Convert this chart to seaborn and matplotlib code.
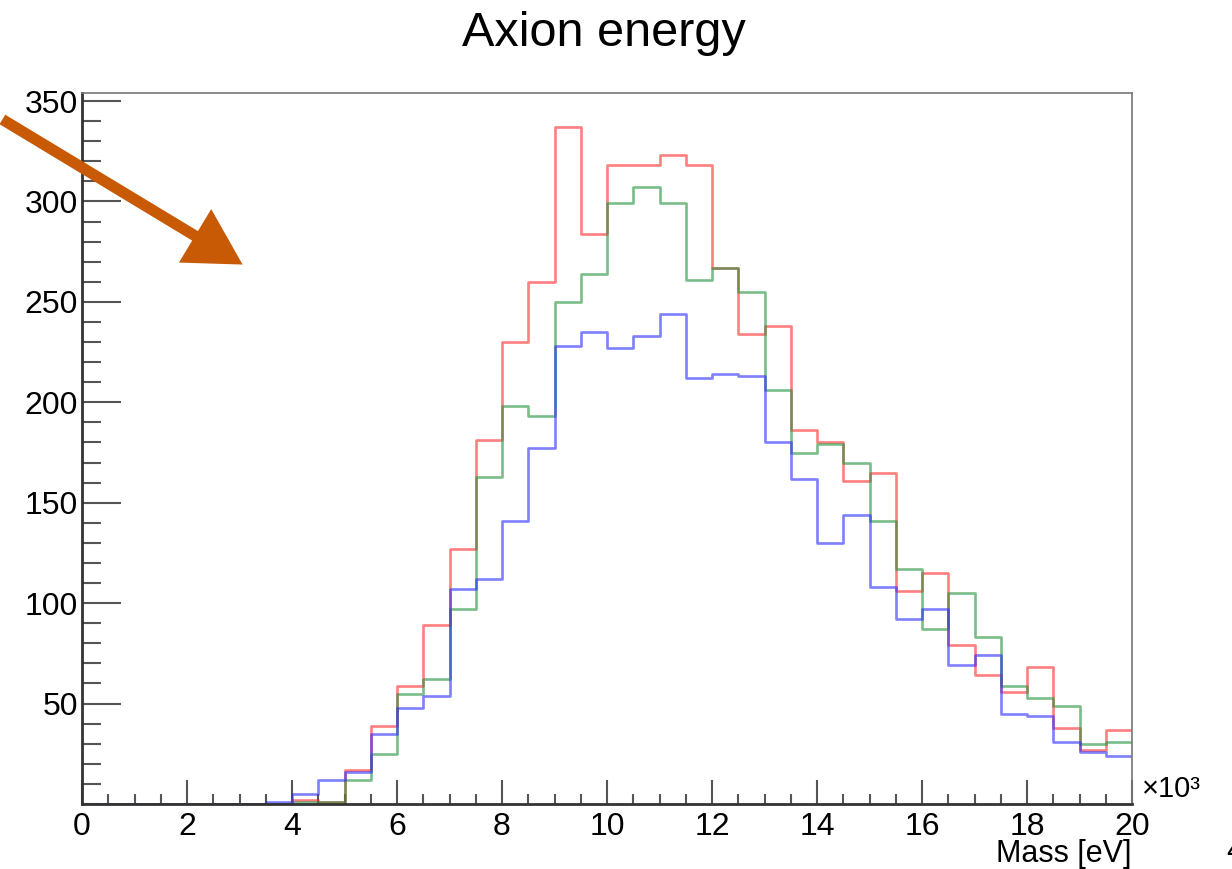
import numpy as np
import pandas as pd
import matplotlib
matplotlib.use("Agg")
import matplotlib.pyplot as plt
from matplotlib.patches import FancyArrowPatch, ArrowStyle
from matplotlib.ticker import MultipleLocator
import seaborn as sns

# Histogram binning: 40 bins of 0.5 (x10^3 eV) from 0 to 20
bin_edges = [0.5 * i for i in range(41)]
bin_centers = [0.5 * i + 0.25 for i in range(40)]

counts_red = [0, 0, 0, 0, 0, 0, 0, 0, 2, 1,
              17, 39, 59, 89, 127, 181, 230, 260, 337, 284,
              318, 318, 323, 318, 267, 234, 238, 186, 180, 161,
              165, 106, 115, 79, 64, 56, 68, 38, 27, 37]
counts_green = [0, 0, 0, 0, 0, 0, 0, 0, 1, 1,
                12, 25, 55, 62, 97, 163, 198, 193, 250, 264,
                299, 307, 299, 261, 267, 255, 206, 175, 179, 170,
                141, 117, 87, 105, 83, 59, 53, 49, 30, 31]
counts_blue = [0, 0, 0, 0, 0, 0, 0, 1, 5, 12,
               16, 35, 48, 54, 107, 112, 141, 177, 228, 235,
               227, 233, 244, 212, 214, 213, 180, 162, 130, 144,
               108, 92, 97, 69, 74, 45, 44, 31, 26, 24]

series = [(counts_red, "#ff2a2a"), (counts_green, "#23913a"), (counts_blue, "#2a2aff")]

y_major = [50, 100, 150, 200, 250, 300, 350]
x_major = [0, 2, 4, 6, 8, 10, 12, 14, 16, 18, 20]

sns.set_theme(style="white")
plt.rcParams["font.family"] = ["Liberation Sans", "DejaVu Sans"]

fig = plt.figure(figsize=(12.32, 8.69), dpi=100)
ax = fig.add_axes([82 / 1232, 1 - 804 / 869, 1050 / 1232, 711 / 869])

for counts, col in series:
    df = pd.DataFrame({"mass": bin_centers, "count": np.asarray(counts, dtype=float)})
    sns.histplot(data=df, x="mass", weights="count", bins=bin_edges, element="step",
                 fill=False, color=col, alpha=0.6, linewidth=1.9, ax=ax)

ax.set_xlim(0, 20)
ax.set_ylim(0, 354)
ax.set_xticks(x_major)
ax.set_xticklabels([str(v) for v in x_major])
ax.set_yticks(y_major)
ax.set_yticklabels([str(v) for v in y_major])
ax.xaxis.set_minor_locator(MultipleLocator(0.5))
ax.yaxis.set_minor_locator(MultipleLocator(10))
ax.set_xlabel("")
ax.set_ylabel("")

ax.tick_params(axis="both", which="both", direction="in", colors="#555555",
               labelcolor="black", labelsize=23, width=1.5,
               bottom=True, left=True, top=False, right=False)
ax.tick_params(axis="x", which="major", length=17, pad=6)
ax.tick_params(axis="x", which="minor", length=7)
ax.tick_params(axis="y", which="major", length=28, pad=3)
ax.tick_params(axis="y", which="minor", length=14)

for side in ("left", "bottom"):
    ax.spines[side].set_color("#333333")
    ax.spines[side].set_linewidth(2.0)
for side in ("top", "right"):
    ax.spines[side].set_color("#777777")
    ax.spines[side].set_linewidth(1.2)

fig.text(604 / 1232, 1 - 34 / 869, "Axion energy", ha="center", va="center",
         fontsize=35, color="black")
fig.text(1131 / 1232, 1 - 862 / 869, "Mass [eV]", ha="right", va="baseline",
         fontsize=22, color="black")
fig.text(1142 / 1232, 1 - 789 / 869, "×10³", ha="left", va="center",
         fontsize=21, color="black")
fig.text(1226 / 1232, 1 - 860 / 869, "4", ha="left", va="baseline",
         fontsize=22, color="black")

arrow = FancyArrowPatch((0.0, 1 - 118 / 869), (245 / 1232, 1 - 266 / 869),
                        transform=fig.transFigure,
                        arrowstyle=ArrowStyle.Simple(head_length=0.8, head_width=0.9,
                                                     tail_width=0.16),
                        mutation_scale=50, color="#c85a06", lw=0)
fig.add_artist(arrow)

fig.savefig("out.png", dpi=100)
